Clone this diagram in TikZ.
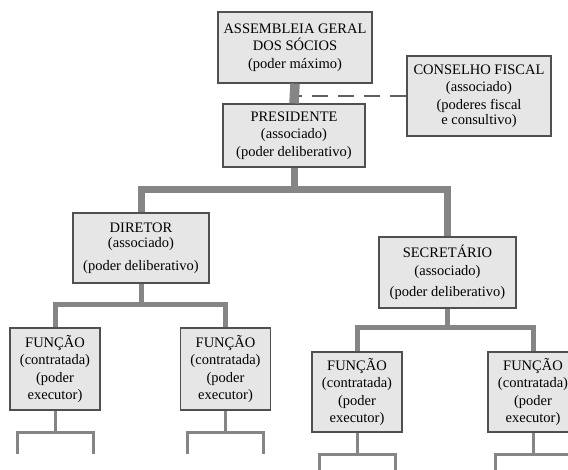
\documentclass[tikz,border=0pt]{standalone}
\usepackage{fontspec}
\setmainfont{Liberation Serif}
\usetikzlibrary{positioning, calc}
\definecolor{boxfill}{HTML}{E6E6E6}
\definecolor{boxline}{HTML}{505050}
\definecolor{linkgray}{HTML}{858585}
\definecolor{dashgray}{HTML}{606060}

\begin{document}
\begin{tikzpicture}[x=1pt, y=-1pt]
\tikzset{Org/.style={shape=rectangle, draw=boxline, fill=boxfill, line width=1.2pt, inner sep=0pt, align=center, font=\fontsize{14.5}{17.5}\selectfont}}
\tikzset{Func/.style={Org, minimum width=90pt, minimum height=82pt}}
\tikzset{Trunk/.style={draw=linkgray, line width=7pt}}
\tikzset{Branch/.style={draw=linkgray, line width=5pt}}
\tikzset{Twig/.style={draw=linkgray, line width=3pt}}
\tikzset{Fiscal/.style={draw=dashgray, line width=2.8pt, dash pattern=on 16pt off 10pt}}

\useasboundingbox (0,0) rectangle (568,470);

% nodes
\node[Org, minimum width=154pt, minimum height=71pt] (asm) at (295,47.5) {ASSEMBLEIA GERAL\\DOS SÓCIOS\\(poder máximo)};
\node[Org, minimum width=144pt, minimum height=80pt] (cons) at (479,96) {CONSELHO FISCAL\\(associado)\\(poderes fiscal\\[-2.5pt]e consultivo)};
\node[Org, minimum width=142pt, minimum height=63pt] (pres) at (294,135.5) {PRESIDENTE\\(associado)\\(poder deliberativo)};

\node[Org, minimum width=136pt, minimum height=70pt] (dir) at (141,248) {DIRETOR\\[-2pt](associado)\\[5pt](poder deliberativo)};
\node[Org, minimum width=137pt, minimum height=71pt] (sec) at (447.5,272.5) {SECRETÁRIO\\(associado)\\[4pt](poder deliberativo)};

\node[Func] (f1) at (55,369) {FUNÇÃO\\(contratada)\\(poder\\executor)};
\node[Func] (f2) at (225.5,369) {FUNÇÃO\\(contratada)\\(poder\\executor)};
\node[Func, minimum height=80pt] (f3) at (357,392) {FUNÇÃO\\(contratada)\\(poder\\executor)};
\node[Func, minimum height=80pt] (f4) at (533,392) {FUNÇÃO\\(contratada)\\(poder\\executor)};

% junctions
\coordinate (j1) at (pres.south |- 0,190);
\coordinate (j2) at (dir.south |- 0,305);
\coordinate (j3) at (sec.south |- 0,328);

% links
\draw[Fiscal] (cons.west) -- (asm.south |- cons.west);
\draw[Trunk, line width=9.5pt] (asm.south) -- (pres.north);
\draw[Trunk] (pres.south) -- (j1);
\draw[Trunk] (dir.north) |- (j1) -| (sec.north);
\draw[Branch] (dir.south) -- (j2);
\draw[Branch] (f1.north) |- (j2) -| (f2.north);
\draw[Branch] (sec.south) -- (j3);
\draw[Branch] (f3.north) |- (j3) -| (f4.north);

\foreach \f in {f1,f2,f3,f4}{
  \coordinate (\f j) at ($(\f.south)+(0,22)$);
  \coordinate (\f l) at ($(\f.south)+(-38,43)$);
  \coordinate (\f r) at ($(\f.south)+(38,43)$);
  \draw[Twig] (\f.south) -- (\f j);
  \draw[Twig] (\f l) |- (\f j) -| (\f r);
}
\end{tikzpicture}
\end{document}
